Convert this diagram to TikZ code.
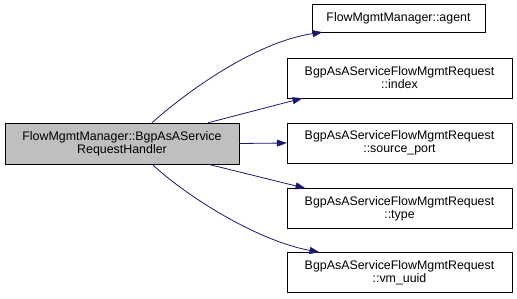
\documentclass[tikz,border=0pt]{standalone}
\usepackage{fontspec}
\setmainfont{Liberation Sans}
\usetikzlibrary{arrows.meta}
\definecolor{edgeblue}{HTML}{191970}
\definecolor{boxgray}{HTML}{BFBFBF}
\begin{document}
\begin{tikzpicture}[x=1pt,y=-1pt,
  fn/.style={draw=black,fill=white,inner sep=0pt,align=center,font=\fontsize{12.4}{13}\selectfont},
  call/.style={draw=edgeblue,-{Triangle[length=10pt,width=7pt]},fill=none,line width=0.8pt}]
\useasboundingbox (0,0) rectangle (517,299);
\node[fn,fill=boxgray,minimum width=234pt,minimum height=41pt] (main) at (122,143.5)
  {FlowMgmtManager::BgpAsAService\\RequestHandler};
\node[fn,minimum width=173pt,minimum height=28pt] (agent) at (398.5,18) {FlowMgmtManager::agent};
\node[fn,minimum width=225pt,minimum height=40pt] (index) at (399.5,78) {BgpAsAServiceFlowMgmtRequest\\::index};
\node[fn,minimum width=225pt,minimum height=40pt] (sport) at (399.5,143) {BgpAsAServiceFlowMgmtRequest\\::source\_port};
\node[fn,minimum width=225pt,minimum height=40pt] (type) at (399.5,208.5) {BgpAsAServiceFlowMgmtRequest\\::type};
\node[fn,minimum width=225pt,minimum height=40pt] (vmuuid) at (399.5,272.5) {BgpAsAServiceFlowMgmtRequest\\::vm\_uuid};
\draw[call] ([xshift=30pt]main.north) .. controls (185,93) and (255,42) .. ([xshift=-76pt]agent.south);
\draw[call] ([xshift=86pt]main.north) -- ([xshift=-97pt]index.south);
\draw[call] (main.east) -- (sport.west);
\draw[call] ([xshift=86pt]main.south) -- ([xshift=-94pt]type.north);
\draw[call] ([xshift=30pt]main.south) .. controls (185,195) and (255,240) .. ([xshift=-80pt]vmuuid.north);
\end{tikzpicture}
\end{document}
